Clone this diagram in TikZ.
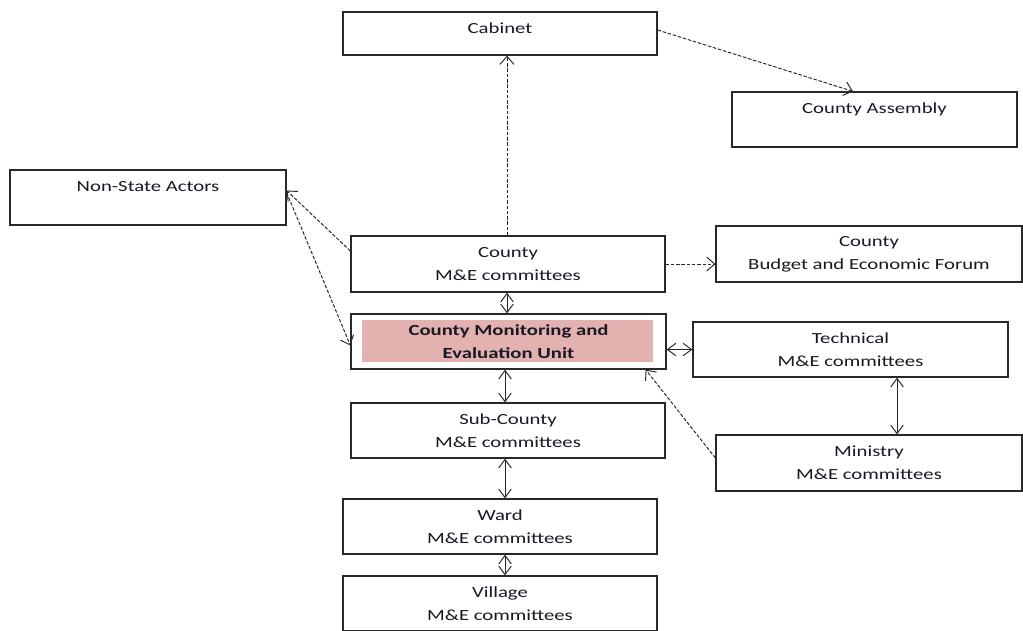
\documentclass[tikz,border=0pt]{standalone}
\usepackage{fontspec}
\setmainfont{Carlito}[FakeStretch=1.34]
\usetikzlibrary{arrows.meta,calc}
\definecolor{unitpink}{RGB}{227,177,176}
\definecolor{linegray}{RGB}{40,40,40}
\definecolor{txtcol}{RGB}{25,25,35}
\begin{document}
\begin{tikzpicture}[x=0.02cm,y=-0.02cm,
  box/.style={draw=linegray, line width=0.7pt, align=center, inner sep=1pt,
    text=txtcol, font=\fontsize{8.8pt}{13.1pt}\selectfont},
  sz/.style 2 args={minimum width=#1*0.02cm, minimum height=#2*0.02cm},
  unitbg/.style={fill=unitpink, draw=none, inner sep=0pt},
  dlink/.style={draw=linegray, line width=0.55pt, dash pattern=on 2pt off 1pt,
    -{Straight Barb[length=1.6mm,width=2.8mm]}},
  blink/.style={draw=linegray, line width=0.55pt,
    {Straight Barb[length=1.7mm,width=2.5mm]}-{Straight Barb[length=1.7mm,width=2.5mm]}}]
\clip (0,0) rectangle (1023,630);
\fill[white] (0,0) rectangle (1023,630);

% boxes
\node[box, sz={314}{43}] (cab) at (500,33.5) {Cabinet\\[-0.24cm]~};
\node[box, sz={285}{55}] (asm) at (874.5,119.5) {County Assembly\\~};
\node[box, sz={276}{55}] (nsa) at (148,197.5) {Non-State Actors\\~};
\node[box, sz={314}{56}] (cme) at (508,264) {County\\M\&E committees};
\node[box, sz={306}{56}] (bef) at (869,254) {County\\Budget and Economic Forum};
\node[unitbg, sz={291}{42}] (unitfill) at (507.5,341) {};
\node[box, sz={315}{55}, font=\fontsize{8.8pt}{13.1pt}\selectfont\bfseries] (unit) at (508.5,341.5) {County Monitoring and\\Evaluation Unit};
\node[box, sz={315}{55}] (tech) at (850.5,349.5) {Technical\\M\&E committees};
\node[box, sz={314}{55}] (sub) at (508,430.5) {Sub-County\\M\&E committees};
\node[box, sz={306}{56}] (min) at (869,463) {Ministry\\M\&E committees};
\node[box, sz={314}{55}] (ward) at (500,526.5) {Ward\\M\&E committees};
\node[box, sz={314}{55}] (vil) at (500,603.5) {Village\\M\&E committees};

% dashed connectors
\draw[dlink] ([xshift=-0.02cm]cme.north) -- ([xshift=-0.02cm]cme.north |- cab.south);
\draw[dlink] ([yshift=0.07cm]cab.east) -- ([xshift=-0.43cm]asm.north);
\draw[dlink] ([yshift=0.26cm]cme.west) -- ([yshift=0.14cm]nsa.east);
\draw[dlink] ([yshift=0.1cm]nsa.east) -- ([yshift=-0.08cm]unit.west);
\draw[dlink] (cme.east) -- (cme.east -| bef.west);
\draw[dlink] ([yshift=0.1cm]min.west) -- ([xshift=-0.42cm]unit.south east);

% solid double connectors
\draw[blink] ([xshift=-0.02cm]cme.south) -- ([xshift=-0.02cm]cme.south |- unit.north);
\draw[blink] (tech.west -| unit.east) -- (tech.west);
\draw[blink] ([xshift=-0.07cm]unit.south) -- ([xshift=-0.07cm]unit.south |- sub.north);
\draw[blink] ([xshift=0.93cm]tech.south) -- ([xshift=0.93cm]tech.south |- min.north);
\draw[blink] ([xshift=-0.06cm]sub.south) -- ([xshift=-0.06cm]sub.south |- ward.north);
\draw[blink] ([xshift=0.1cm]ward.south) -- ([xshift=0.1cm]ward.south |- vil.north);
\end{tikzpicture}
\end{document}
